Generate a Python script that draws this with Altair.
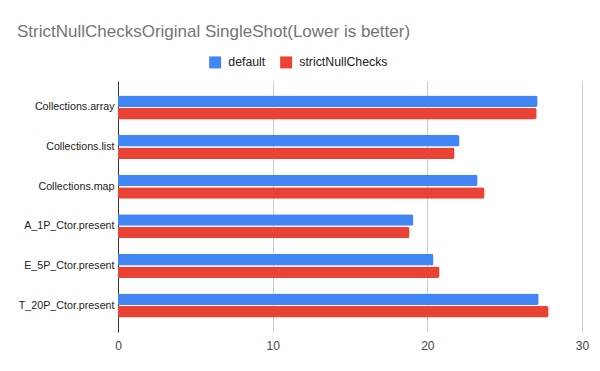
import altair as alt
import pandas as pd

categories = ["Collections.array", "Collections.list", "Collections.map",
              "A_1P_Ctor.present", "E_5P_Ctor.present", "T_20P_Ctor.present"]
series = ["default", "strictNullChecks"]
default_vals = [27.13, 22.08, 23.25, 19.10, 20.40, 27.20]
strict_vals = [27.07, 21.76, 23.70, 18.85, 20.79, 27.84]
x_ticks = [0, 10, 20, 30]
colors = ["#4285F4", "#EA4335"]

rows = []
for c, d, s in zip(categories, default_vals, strict_vals):
    rows.append({"category": c, "series": series[0], "value": d})
    rows.append({"category": c, "series": series[1], "value": s})
df = pd.DataFrame(rows)

FONT = "Liberation Sans"

chart = alt.Chart(df).mark_bar(cornerRadiusEnd=2).encode(
    y=alt.Y("category:N", sort=categories, title=None,
            scale=alt.Scale(paddingInner=0.394, paddingOuter=0.366),
            axis=alt.Axis(ticks=False, grid=False, domain=True, domainColor="#333333",
                          domainWidth=1, labelFont=FONT, labelFontSize=10.7,
                          labelColor="#222222", labelPadding=4)),
    yOffset=alt.YOffset("series:N", sort=series, scale=alt.Scale(paddingInner=0.08)),
    x=alt.X("value:Q", title=None,
            scale=alt.Scale(domain=[0, 30], nice=False, zero=True),
            axis=alt.Axis(values=x_ticks, ticks=False, domain=False, grid=True,
                          gridColor="#cccccc", labelFont=FONT, labelFontSize=12,
                          labelColor="#444444", labelPadding=8, labelFlush=False)),
    color=alt.Color("series:N", sort=series,
                    scale=alt.Scale(domain=series, range=colors),
                    legend=alt.Legend(title=None, orient="none", direction="horizontal",
                                      legendX=91, legendY=-25, symbolType="square",
                                      symbolSize=144, symbolStrokeWidth=0,
                                      labelFont=FONT, labelFontSize=12.3,
                                      labelColor="#222222", labelOffset=7,
                                      columnPadding=14, padding=0)),
).properties(
    width=464, height=251,
    title=alt.TitleParams("StrictNullChecksOriginal SingleShot(Lower is better)",
                          anchor="start", frame="group", font=FONT, fontSize=17,
                          fontWeight="normal", color="#757575", dx=-101, dy=-11),
    autosize=alt.AutoSizeParams(type="none"),
    padding={"left": 110, "top": 73, "right": 10, "bottom": 31},
).configure_view(stroke=None)

chart.save("out.html", embed_options={"renderer": "svg", "actions": False})
